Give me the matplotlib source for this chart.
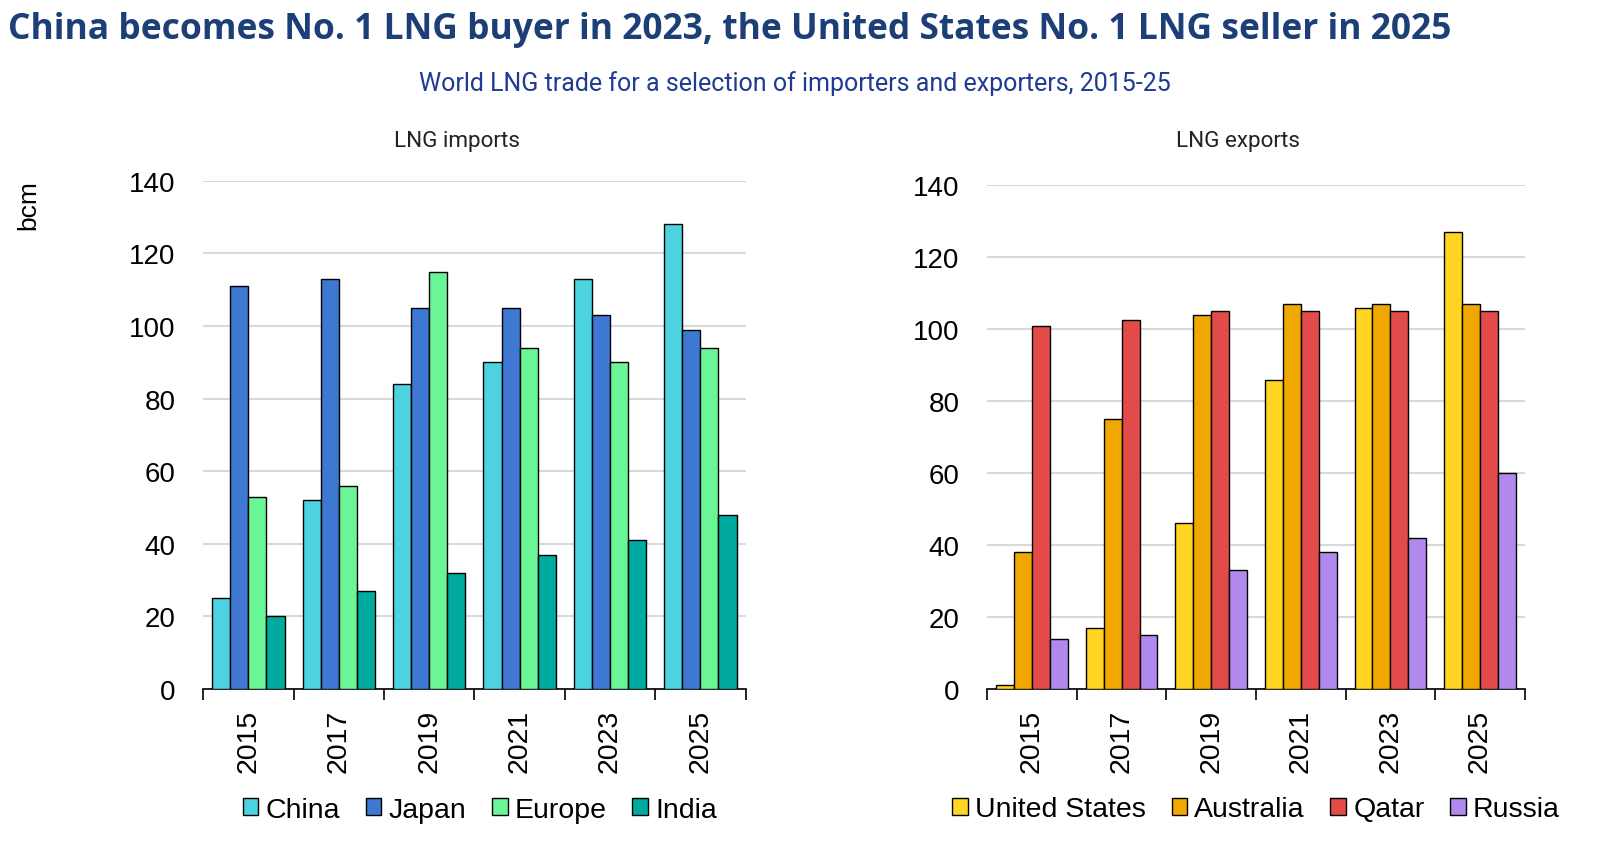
import matplotlib
matplotlib.use("Agg")
import matplotlib.pyplot as plt
import numpy as np

years = ["2015", "2017", "2019", "2021", "2023", "2025"]

import_names = ["China", "Japan", "Europe", "India"]
china = [25, 52, 84, 90, 113, 128]
japan = [111, 113, 105, 105, 103, 99]
europe = [53, 56, 115, 94, 90, 94]
india = [20, 27, 32, 37, 41, 48]
import_colors = ["#4DD3E0", "#3E78D3", "#6AF596", "#00AA9E"]

export_names = ["United States", "Australia", "Qatar", "Russia"]
united_states = [1, 17, 46, 86, 106, 127]
australia = [38, 75, 104, 107, 107, 107]
qatar = [101, 102.5, 105, 105, 105, 105]
russia = [14, 15, 33, 38, 42, 60]
export_colors = ["#FFD422", "#F0A800", "#E34A4A", "#B088EE"]

plt.rcParams['font.family'] = ['Liberation Sans', 'DejaVu Sans']

fig = plt.figure(figsize=(16, 8.54), dpi=100)

fig.text(0.005, 0.9543, "China becomes No. 1 LNG buyer in 2023, the United States No. 1 LNG seller in 2025",
         fontsize=25.5, fontweight='bold', color="#1C3F78", family=['Open Sans', 'DejaVu Sans'],
         ha='left', va='baseline')
fig.text(0.497, 0.894, "World LNG trade for a selection of importers and exporters, 2015-25",
         fontsize=18, color="#1F3A93", family=['Roboto', 'DejaVu Sans'], ha='center', va='baseline')


def panel(rect, title, series, names, colors, ylabel=None, legx=0.5):
    ax = fig.add_axes(rect)
    x = np.arange(len(years))
    w = 0.2
    for i, (vals, name, col) in enumerate(zip(series, names, colors)):
        ax.bar(x + (i - 1.5) * w, vals, width=w, color=col, edgecolor='black',
               linewidth=1.0, label=name, zorder=3)
    ax.set_xlim(-0.5, len(years) - 0.5)
    ax.set_ylim(0, 140)
    ax.set_yticks(np.arange(0, 141, 20))
    ax.yaxis.grid(True, color="#D9D9D9", linewidth=1.5, zorder=0)
    ax.set_axisbelow(True)
    for s in ['left', 'right', 'top']:
        ax.spines[s].set_visible(False)
    ax.spines['bottom'].set_linewidth(1.2)
    ax.tick_params(axis='y', length=0, labelsize=20, pad=20)
    ax.set_xticks(x)
    ax.set_xticklabels(years, rotation=90, fontsize=20.5)
    ax.tick_params(axis='x', length=0, pad=14)
    ax.set_xticks(np.arange(-0.5, len(years), 1.0), minor=True)
    ax.tick_params(axis='x', which='minor', length=8, width=1.2, direction='out')
    cx = rect[0] + rect[2] / 2 - 0.011
    fig.text(cx, 0.828, title, fontsize=16.2, family=['Roboto', 'DejaVu Sans'],
             color="#222222", ha='center', va='baseline')
    if ylabel:
        ax.set_ylabel(ylabel, fontsize=19)
        ax.yaxis.set_label_coords(-0.30, 0.955)
    ax.legend(loc='upper center', bbox_to_anchor=(legx, -0.19), ncol=4, frameon=False,
              fontsize=20.5, handlelength=0.55, handleheight=0.55, handletextpad=0.25,
              columnspacing=0.9, borderaxespad=0)
    return ax


panel([0.127, 0.192, 0.339, 0.595], "LNG imports", [china, japan, europe, india],
      import_names, import_colors, ylabel="bcm", legx=0.51)
panel([0.617, 0.192, 0.336, 0.590], "LNG exports", [united_states, australia, qatar, russia],
      export_names, export_colors)

fig.savefig("out.png", dpi=100)
